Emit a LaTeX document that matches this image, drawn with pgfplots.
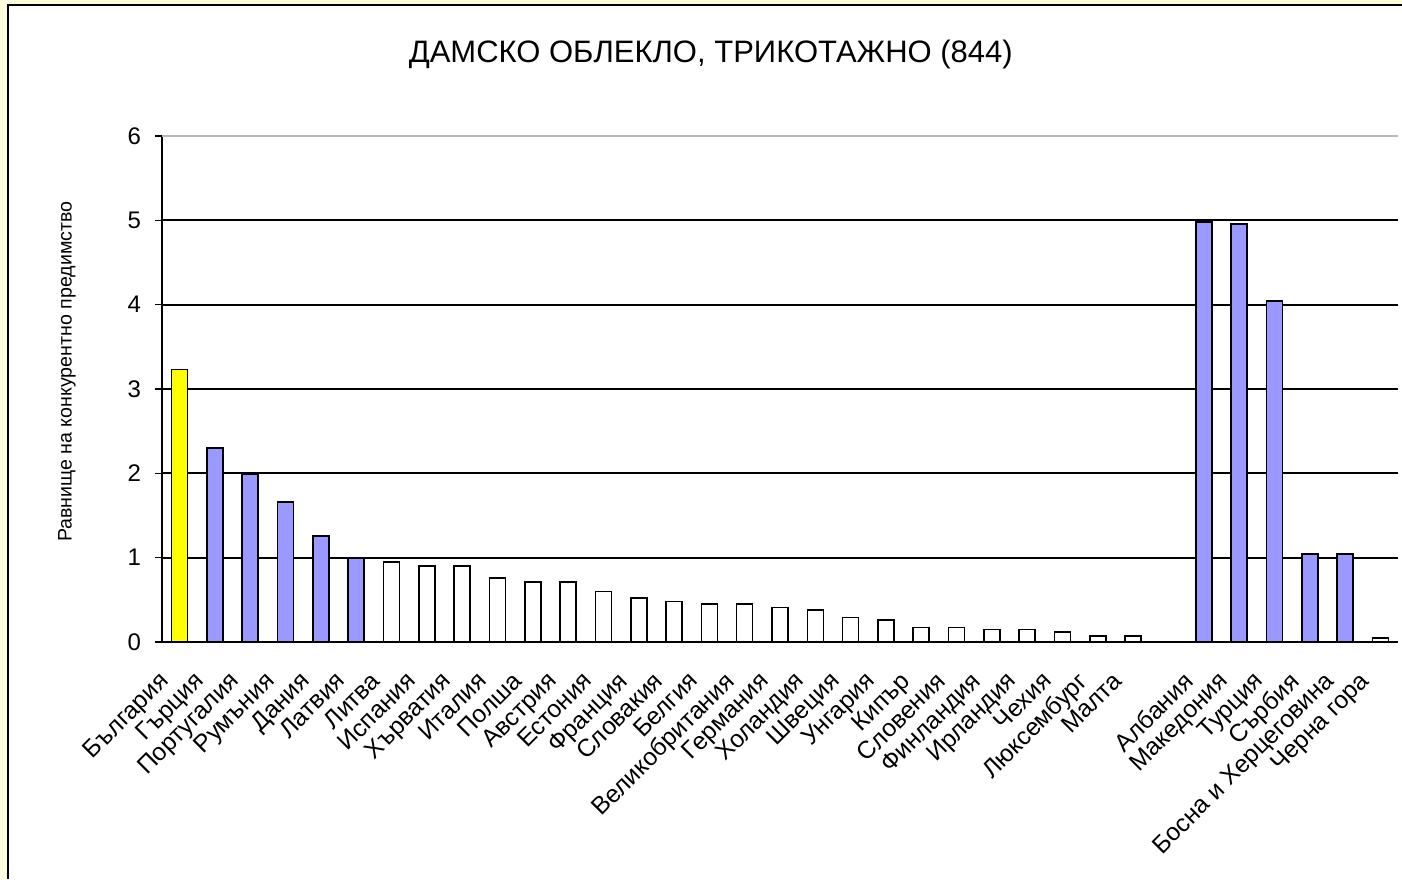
\documentclass[border=0pt]{standalone}
\usepackage{pgfplots}
\pgfplotsset{compat=1.18}
\usepackage{fontspec}
\setmainfont{Liberation Sans}
\definecolor{bgyellow}{HTML}{FFFFDD}
\definecolor{barblue}{HTML}{9999FF}
\definecolor{baryellow}{HTML}{FFFF00}
\begin{document}
\begin{tikzpicture}
\path[use as bounding box] (0,0) rectangle (701pt,439.5pt);
\fill[bgyellow] (0,0) rectangle (701pt,439.5pt);
\fill[white] (4pt,0) rectangle (701pt,437pt);
\draw[line width=1pt] (4pt,0) -- (4pt,437pt) -- (701pt,437pt);
\begin{axis}[
  at={(81pt,118.5pt)}, anchor=south west,
  scale only axis, width=618pt, height=253pt,
  xmin=-0.5, xmax=34.5, ymin=0, ymax=6,
  axis x line*=bottom, axis y line*=left,
  axis line style={black, line width=0.9pt},
  ytick={0,1,2,3,4,5},
  extra y ticks={6},
  extra y tick style={grid style={gray!55, line width=0.8pt}},
  ymajorgrids, grid style={black, line width=0.9pt},
  tick align=outside,
  major tick length=3.5pt,
  tick style={black, line width=0.8pt},
  xtick={0,...,34},
  xticklabels={България,Гърция,Португалия,Румъния,Дания,Латвия,Литва,Испания,Хърватия,Италия,Полша,Австрия,Естония,Франция,Словакия,Белгия,Великобритания,Германия,Холандия,Швеция,Унгария,Кипър,Словения,Финландия,Ирландия,Чехия,Люксембург,Малта,{},Албания,Македония,Турция,Сърбия,Босна и Херцеговина,Черна гора},
  x tick style={draw=none},
  minor xtick={-0.5,0.5,...,34.5},
  minor tick length=3.5pt,
  minor x tick style={black, line width=0.8pt},
  xticklabel style={xshift=-11pt, yshift=-10.5pt, rotate=45, anchor=north east, inner sep=0pt, font=\fontsize{12.3}{14}\selectfont},
  yticklabel style={xshift=-3.5pt, font=\fontsize{12}{14}\selectfont},
  /pgf/number format/assume math mode=true,
  ylabel={Равнище на конкурентно предимство},
  ylabel style={at={(axis description cs:-0.077,0.534)}, anchor=center, font=\fontsize{9.8}{11}\selectfont},
  title={ДАМСКО ОБЛЕКЛО, ТРИКОТАЖНО (844)},
  title style={at={(axis description cs:0.444,1.138)}, anchor=center, yshift=0pt, font=\fontsize{15.5}{18}\selectfont},
  ybar, bar width=8pt, bar shift=0pt,
  every axis plot/.append style={draw=black, line width=0.8pt},
  clip=false,
]
\addplot[fill=baryellow] coordinates {(0,3.23)};
\addplot[fill=barblue] coordinates {(1,2.30) (2,1.99) (3,1.66) (4,1.26) (5,0.99) (29,4.98) (30,4.96) (31,4.04) (32,1.04) (33,1.04)};
\addplot[fill=white] coordinates {(6,0.95) (7,0.90) (8,0.90) (9,0.76) (10,0.71) (11,0.71) (12,0.60) (13,0.52) (14,0.48) (15,0.45) (16,0.45) (17,0.41) (18,0.38) (19,0.29) (20,0.26) (21,0.17) (22,0.17) (23,0.15) (24,0.15) (25,0.12) (26,0.07) (27,0.07) (34,0.05)};
\end{axis}
\end{tikzpicture}
\end{document}
